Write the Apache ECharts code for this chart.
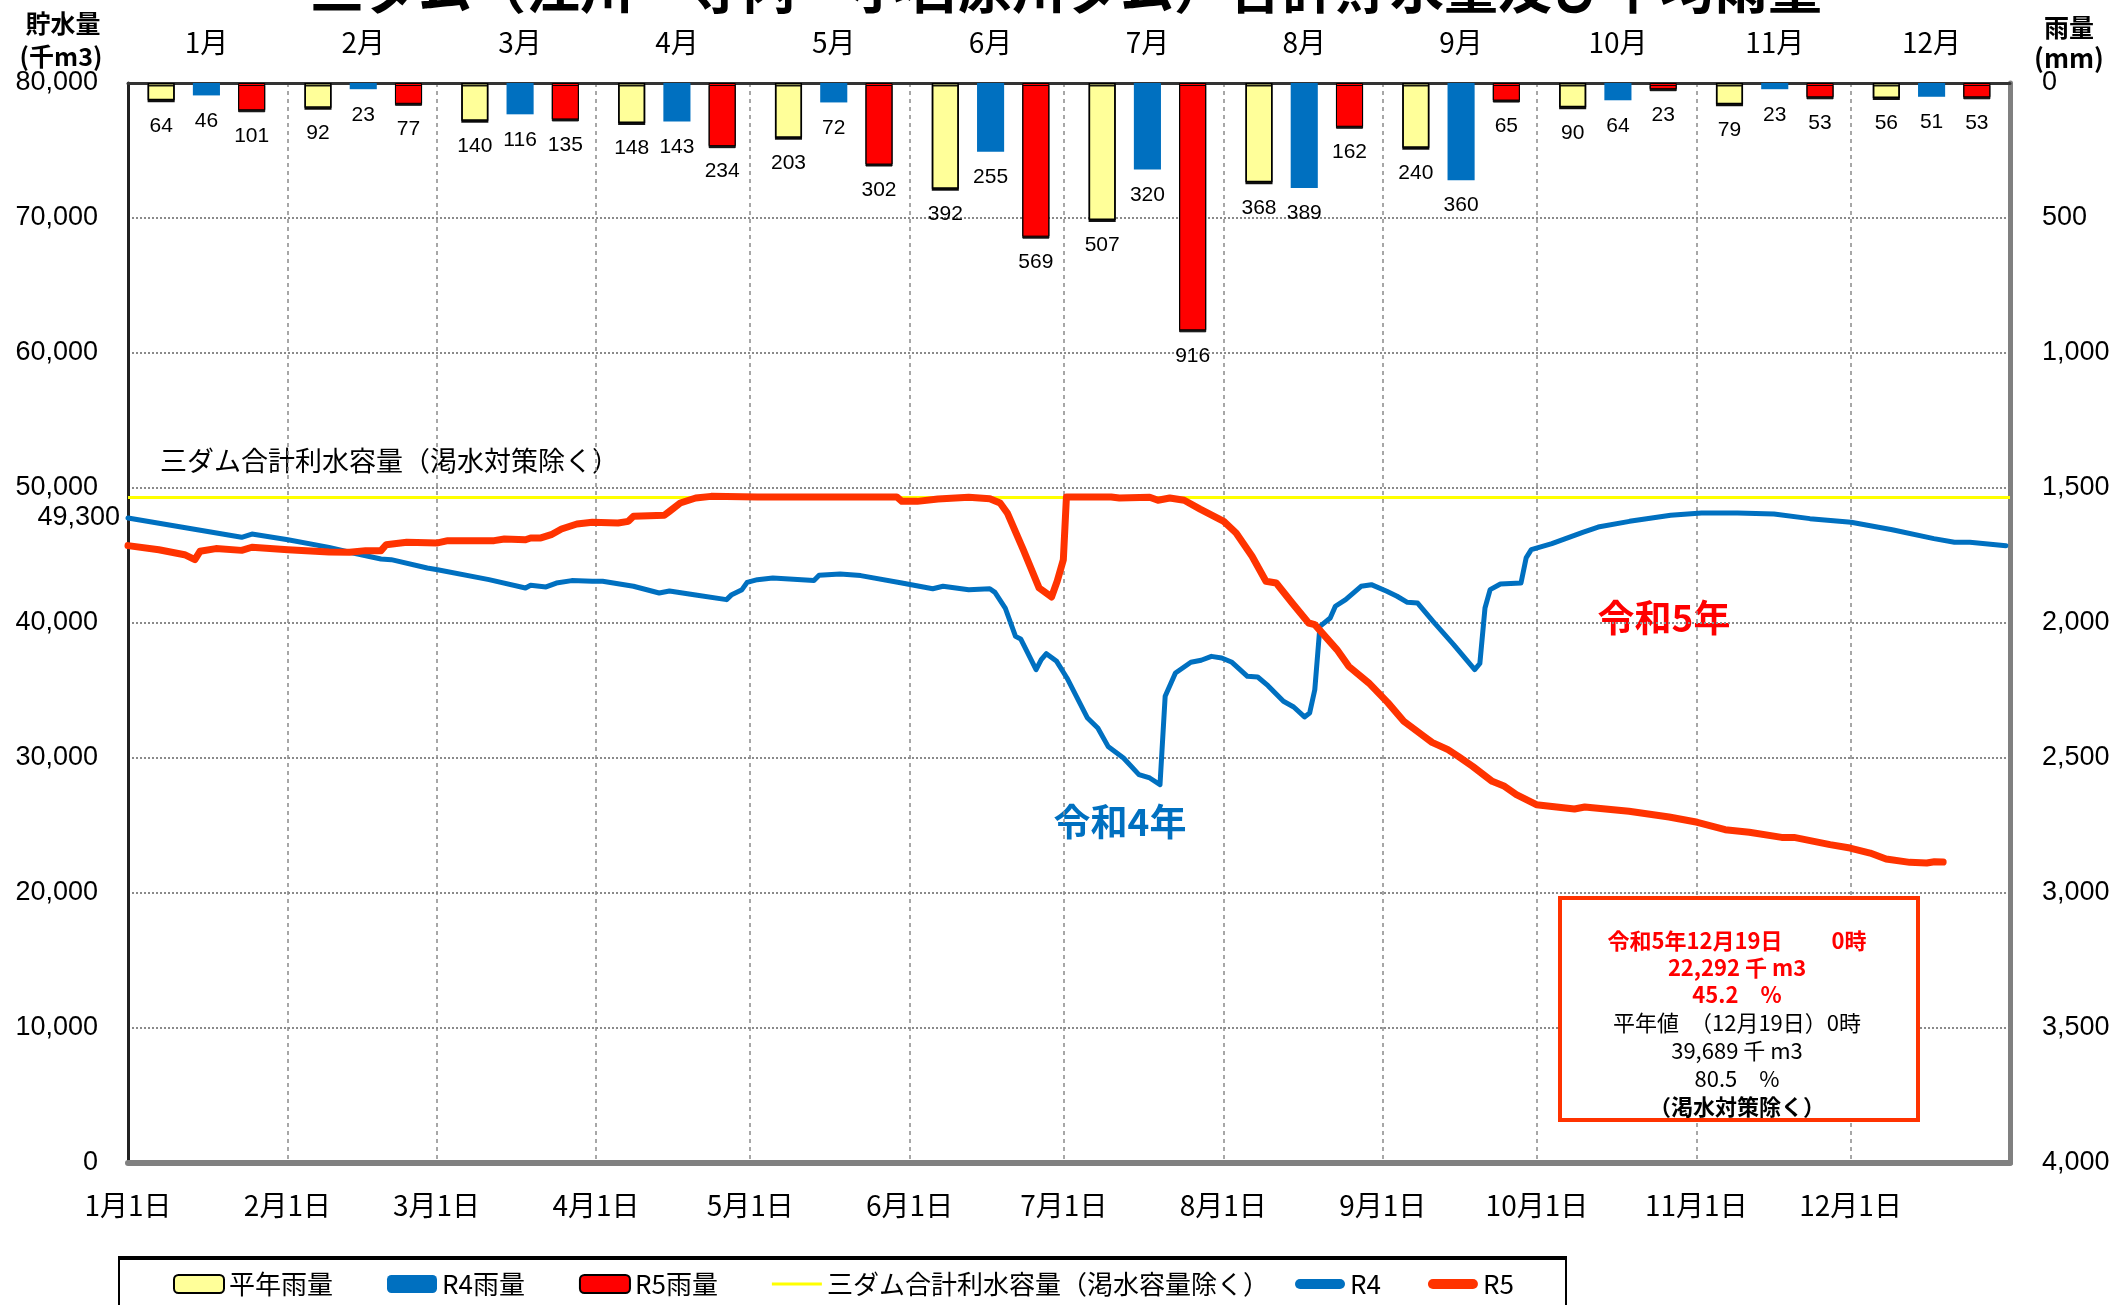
<!DOCTYPE html>
<html><head><meta charset="utf-8">
<script src="https://cdn.jsdelivr.net/npm/echarts@6/dist/echarts.min.js"></script>
<style>html,body{margin:0;padding:0;background:#fff}#c{width:2120px;height:1305px}</style>
</head><body><div id="c"></div>
<script>
// ---- data ----
const months = ['1月','2月','3月','4月','5月','6月','7月','8月','9月','10月','11月','12月'];
const rainNormal = [64, 92, 140, 148, 203, 392, 507, 368, 240, 90, 79, 56];
const rainR4 = [46, 23, 116, 143, 72, 255, 320, 389, 360, 64, 23, 51];
const rainR5 = [101, 77, 135, 234, 302, 569, 916, 162, 65, 23, 53, 53];
const capacity = 49300;
// day position on the chart's 366-day calendar (0 = 1月1日), storage (千m3)
const r4Days = [0,22.1,24.1,31.1,39.1,43.1,49.2,51.2,58.2,60.2,70.2,77.3,78.3,81.3,83.3,86.3,90.3,92.3,98.3,103.3,105.3,110.4,116.4,117.4,119.4,120.4,122.4,125.4,133.4,134.4,138.5,142.5,150.5,156.5,158.5,163.5,167.6,168.6,170.6,172.6,173.6,176.6,177.6,178.6,180.6,182.6,186.6,188.6,190.6,193.6,196.6,198.7,200.7,201.7,203.7,206.7,208.7,210.7,212.7,214.7,217.7,219.7,221.7,224.7,226.7,228.8,229.8,230.8,231.8,233.8,234.8,236.8,239.8,241.8,244.8,246.8,248.8,250.8,253.8,257.8,261.9,262.9,263.9,264.9,266.9,270.9,271.9,272.9,276.9,282.9,285.9,292,300,306,313,320.1,327.1,335.1,343.1,351.2,355.2,358.2,365.2];
const r4Storage = [47780,46350,46590,46170,45600,45240,44740,44690,44070,43950,43210,42590,42790,42670,42960,43140,43090,43090,42720,42220,42370,42070,41730,42100,42470,43010,43210,43330,43140,43530,43630,43510,42960,42540,42720,42470,42540,42270,41110,39010,38820,36540,37280,37730,37160,35930,32960,32220,30860,30000,28770,28520,28030,34570,36300,37090,37240,37530,37410,37090,36050,36000,35360,34200,33780,33040,33330,35060,39750,40370,41240,41730,42720,42840,42350,41980,41530,41480,40120,38400,36540,37000,41110,42470,42890,42960,44820,45430,45880,46720,47110,47530,47980,48150,48150,48070,47730,47460,46910,46250,45980,45980,45730];
const r5Days = [0,6,11,13,14,17.1,22.1,24.1,31.1,39.1,43.1,46.2,49.2,50.2,54.2,60.2,62.2,71.2,73.2,77.3,78.3,80.3,82.3,84.3,87.3,90.3,95.3,97.3,98.3,104.3,105.3,107.4,110.4,113.4,122.4,149.5,150.5,153.5,157.5,163.5,167.6,169.6,171,174.1,177.2,179.6,180.7,181.9,182.5,191.2,192.8,198.7,200.3,202.6,205.4,208.5,213.1,215.5,218.6,221.3,223.3,226.4,229.6,230.8,235.1,237.4,241.3,245,248.1,252,253.6,256.7,258.7,261.5,265.3,267.7,270,273.9,281.3,283.3,291.9,299.7,305.2,310.6,315.3,321.6,324,331,334.9,338.8,341.9,346.5,349.8,351.3,353];
const r5Storage = [45730,45430,45060,44690,45310,45510,45380,45610,45430,45260,45240,45360,45360,45800,45980,45930,46100,46100,46220,46170,46300,46300,46540,46960,47330,47460,47410,47530,47900,47980,48270,48890,49260,49380,49340,49340,49010,49010,49190,49310,49210,48890,48150,45430,42590,41930,43090,44690,49330,49330,49260,49310,49090,49260,49090,48440,47530,46670,44940,43090,42960,41480,40000,39880,38030,36790,35560,34100,32720,31610,31160,30620,30120,29380,28270,27900,27290,26540,26220,26370,26050,25630,25240,24690,24500,24120,24120,23580,23330,22960,22520,22270,22220,22320,22290];

const YEAR = 2024; // the chart's calendar has a 2月29日 slot
const base = new Date(YEAR, 0, 1).getTime();
const toTime = d => base + d * 86400000;
const pairs = (days, vals) => days.map((d, i) => [toTime(d), vals[i]]);
const fmt = v => Number(v).toLocaleString('en-US');

const JP = "'Noto Sans CJK JP', sans-serif";
const NUM = "'Liberation Sans', 'Noto Sans CJK JP', sans-serif";

const chart = echarts.init(document.getElementById('c'), null, {renderer: 'canvas'});
const barLabel = {show: true, position: 'bottom', distance: 15, fontSize: 21, color: '#000', fontFamily: NUM};
const pill = 'path://M5,0 L45,0 A5,5 0 0 1 45,10 L5,10 A5,5 0 0 1 5,0 Z';
const capName = '三ダム合計利水容量（渇水容量除く）';

const infoLines = [
  {t: '令和5年12月19日　　 0時', c: '#FF0000', b: 'bold', y: 941},
  {t: '22,292 千 m3', c: '#FF0000', b: 'bold', y: 968},
  {t: '45.2　%', c: '#FF0000', b: 'bold', y: 995},
  {t: '平年値　（12月19日）0時', c: '#000', b: 'normal', y: 1023},
  {t: '39,689 千 m3', c: '#000', b: 'normal', y: 1051},
  {t: '80.5　%', c: '#000', b: 'normal', y: 1079},
  {t: '（渇水対策除く）', c: '#000', b: 'bold', y: 1107}
];

const graphics = [
  {type: 'rect', z: 0, shape: {x: 119, y: 1258, width: 1447, height: 80}, style: {fill: '#fff', stroke: '#000', lineWidth: 2}},
  {type: 'rect', z: 1, shape: {x: 118, y: 1256, width: 1449, height: 4}, style: {fill: '#000'}},
  {type: 'text', x: 1066, y: 15, style: {text: '三ダム（江川・寺内・小石原川ダム）合計貯水量及び平均雨量', font: "bold 54px " + JP, fill: '#000', textAlign: 'center', textVerticalAlign: 'bottom'}},
  {type: 'text', x: 63, y: 23, style: {text: '貯水量', font: "bold 25px " + JP, fill: '#000', textAlign: 'center', textVerticalAlign: 'middle'}},
  {type: 'text', x: 61, y: 56, style: {text: '(千m3)', font: "bold 25px " + JP, fill: '#000', textAlign: 'center', textVerticalAlign: 'middle'}},
  {type: 'text', x: 2069, y: 27, style: {text: '雨量', font: "bold 25px " + JP, fill: '#000', textAlign: 'center', textVerticalAlign: 'middle'}},
  {type: 'text', x: 2069, y: 58, style: {text: '(mm)', font: "bold 26px " + JP, fill: '#000', textAlign: 'center', textVerticalAlign: 'middle'}},
  {type: 'text', x: 160, y: 461, style: {text: '三ダム合計利水容量（渇水対策除く）', font: "27px " + JP, fill: '#000', textAlign: 'left', textVerticalAlign: 'middle'}},
  {type: 'text', x: 1120, y: 822, style: {text: '令和4年', font: "bold 37px " + JP, fill: '#0070C0', textAlign: 'center', textVerticalAlign: 'middle'}},
  {type: 'text', x: 1664, y: 618, style: {text: '令和5年', font: "bold 37px " + JP, fill: '#FF0000', textAlign: 'center', textVerticalAlign: 'middle'}},
  {type: 'rect', z: 5, shape: {x: 1560, y: 898, width: 358, height: 222}, style: {fill: '#fff', stroke: '#FF3300', lineWidth: 4}}
].concat(infoLines.map(l => ({type: 'text', z: 6, x: 1737, y: l.y, style: {text: l.t, font: l.b + ' 22px ' + JP, fill: l.c, textAlign: 'center', textVerticalAlign: 'middle'}})));

const legendCommon = {top: 1271, itemWidth: 50, itemHeight: 18, padding: 0, textStyle: {fontSize: 26, color: '#000', fontFamily: JP}};

const option = {
  animation: false,
  backgroundColor: '#fff',
  textStyle: {fontFamily: NUM},
  grid: {left: 128, right: 110, top: 83, bottom: 142, containLabel: false},
  legend: [
    Object.assign({}, legendCommon, {
      left: 173, itemGap: 54,
      data: [
        {name: '平年雨量'}, {name: 'R4雨量'}, {name: 'R5雨量'},
        {name: capName, icon: 'path://M0,0 L50,0 L50,3 L0,3 Z', itemStyle: {color: '#FFFF00'}}
      ]
    }),
    Object.assign({}, legendCommon, {
      left: 1295, itemGap: 47,
      data: [
        {name: 'R4', icon: pill, itemStyle: {color: '#0070C0'}},
        {name: 'R5', icon: pill, itemStyle: {color: '#FF3300'}}
      ]
    })
  ],
  xAxis: [
    {
      type: 'time', min: toTime(0), max: toTime(366), splitNumber: 12, position: 'bottom',
      axisLine: {show: true, lineStyle: {color: '#808080', width: 6}},
      axisTick: {show: false},
      axisLabel: {
        fontSize: 28, color: '#000', margin: 28, fontFamily: JP, fontWeight: 'normal', hideOverlap: false,
        formatter: function (v) { const d = new Date(v); if (d.getFullYear() !== YEAR || d.getDate() !== 1) return ''; return (d.getMonth() + 1) + '月1日'; }
      },
      splitLine: {show: true, lineStyle: {color: '#8a8a8a', type: [4, 4], width: 1.5}}
    },
    {
      type: 'category', data: months, position: 'top',
      axisLine: {show: true, lineStyle: {color: '#333', width: 3}},
      axisTick: {show: false},
      axisLabel: {fontSize: 28, color: '#000', margin: 27, fontFamily: JP},
      splitLine: {show: false}
    }
  ],
  yAxis: [
    {
      type: 'value', min: 0, max: 80000, interval: 10000, position: 'left',
      axisLine: {show: true, lineStyle: {color: '#222', width: 3}},
      axisTick: {show: false},
      axisLabel: {fontSize: 27, color: '#000', margin: 30, formatter: fmt},
      splitLine: {show: true, lineStyle: {color: '#8a8a8a', type: 'dotted', width: 2}}
    },
    {
      type: 'value', min: 0, max: 4000, interval: 500, position: 'right', inverse: true,
      axisLine: {show: true, lineStyle: {color: '#808080', width: 5}},
      axisTick: {show: false},
      axisLabel: {fontSize: 27, color: '#000', margin: 32, formatter: fmt},
      splitLine: {show: false}
    }
  ],
  series: [
    {name: '平年雨量', type: 'bar', xAxisIndex: 1, yAxisIndex: 1, data: rainNormal, barCategoryGap: '25%', barGap: '67%',
     itemStyle: {color: '#FFFF99', borderColor: '#000', borderWidth: 1.5, shadowColor: 'rgba(0,0,0,0.9)', shadowOffsetY: 2}, label: barLabel},
    {name: 'R4雨量', type: 'bar', xAxisIndex: 1, yAxisIndex: 1, data: rainR4, barCategoryGap: '25%', barGap: '67%',
     itemStyle: {color: '#0070C0'}, label: barLabel},
    {name: 'R5雨量', type: 'bar', xAxisIndex: 1, yAxisIndex: 1, data: rainR5, barCategoryGap: '25%', barGap: '67%',
     itemStyle: {color: '#FF0000', borderColor: '#000', borderWidth: 1, shadowColor: 'rgba(0,0,0,0.9)', shadowOffsetY: 2}, label: barLabel},
    {name: capName, type: 'line', xAxisIndex: 0, yAxisIndex: 0, symbol: 'none',
     data: [[toTime(0), capacity], [toTime(366), capacity]],
     lineStyle: {color: '#FFFF00', width: 3}, itemStyle: {color: '#FFFF00'},
     markPoint: {symbol: 'circle', symbolSize: 0, silent: true,
       data: [{coord: [toTime(0), capacity], value: capacity}],
       label: {show: true, position: 'left', distance: 8, offset: [0, 20], fontSize: 27, color: '#000', formatter: p => fmt(p.value)}}},
    {name: 'R4', type: 'line', xAxisIndex: 0, yAxisIndex: 0, symbol: 'none', data: pairs(r4Days, r4Storage),
     lineStyle: {color: '#0070C0', width: 5, join: 'round', cap: 'round'}, itemStyle: {color: '#0070C0'}},
    {name: 'R5', type: 'line', xAxisIndex: 0, yAxisIndex: 0, symbol: 'none', data: pairs(r5Days, r5Storage),
     lineStyle: {color: '#FF3300', width: 7, join: 'round', cap: 'round'}, itemStyle: {color: '#FF3300'}}
  ],
  graphic: graphics
};
chart.setOption(option);
</script></body></html>
